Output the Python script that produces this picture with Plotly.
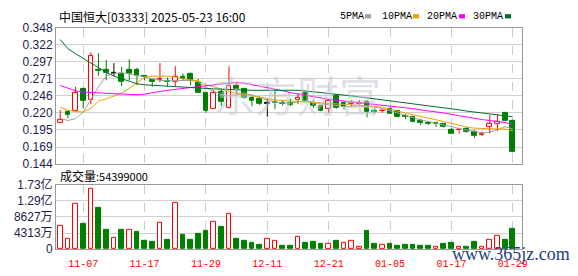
import plotly.graph_objects as go

# ---------------- data ----------------
dates = ["11-02", "11-03", "11-06", "11-07", "11-08", "11-09", "11-10", "11-13", "11-14", "11-15",
         "11-16", "11-17", "11-20", "11-21", "11-22", "11-23", "11-24", "11-27", "11-28", "11-29",
         "11-30", "12-01", "12-04", "12-05", "12-06", "12-07", "12-08", "12-11", "12-12", "12-13",
         "12-14", "12-15", "12-18", "12-19", "12-20", "12-21", "12-22", "12-27", "12-28", "12-29",
         "01-02", "01-03", "01-04", "01-05", "01-08", "01-09", "01-10", "01-11", "01-12", "01-15",
         "01-16", "01-17", "01-18", "01-19", "01-22", "01-23", "01-24", "01-25", "01-26", "01-29"]

opens = [0.2056, 0.2219, 0.2243, 0.2559, 0.2396, 0.2857, 0.2857, 0.2800, 0.2796, 0.2857,
         0.2857, 0.2762, 0.2701, 0.2705, 0.2691, 0.2668, 0.2753, 0.2796, 0.2658, 0.2502,
         0.2266, 0.2517, 0.2276, 0.2606, 0.2559, 0.2432, 0.2418, 0.2350, 0.2370, 0.2362,
         0.2351, 0.2399, 0.2502, 0.2361, 0.2314, 0.2266, 0.2456, 0.2351, 0.2342, 0.2346,
         0.2371, 0.2243, 0.2236, 0.2266, 0.2243, 0.2163, 0.2148, 0.2087, 0.2063, 0.2044,
         0.2035, 0.1945, 0.1945, 0.1960, 0.1926, 0.1875, 0.1997, 0.2039, 0.2209, 0.2087]
highs = [0.2247, 0.2247, 0.2597, 0.2575, 0.3112, 0.3102, 0.2998, 0.2952, 0.2895, 0.3008,
         0.2881, 0.2762, 0.2715, 0.2952, 0.2739, 0.2904, 0.2796, 0.2810, 0.2715, 0.2516,
         0.2549, 0.2559, 0.2904, 0.2668, 0.2569, 0.2456, 0.2456, 0.2418, 0.2530, 0.2399,
         0.2418, 0.2502, 0.2512, 0.2399, 0.2323, 0.2418, 0.2488, 0.2371, 0.2399, 0.2399,
         0.2399, 0.2290, 0.2266, 0.2290, 0.2253, 0.2187, 0.2158, 0.2120, 0.2083, 0.2068,
         0.2044, 0.1983, 0.1983, 0.1997, 0.1945, 0.1926, 0.2172, 0.2187, 0.2219, 0.2102]
lows = [0.2050, 0.2124, 0.2235, 0.2276, 0.2333, 0.2762, 0.2694, 0.2762, 0.2606, 0.2691,
        0.2620, 0.2691, 0.2597, 0.2668, 0.2597, 0.2606, 0.2691, 0.2620, 0.2502, 0.2209,
        0.2266, 0.2304, 0.2266, 0.2478, 0.2418, 0.2304, 0.2323, 0.2148, 0.2266, 0.2314,
        0.2304, 0.2337, 0.2371, 0.2280, 0.2229, 0.2209, 0.2266, 0.2257, 0.2290, 0.2304,
        0.2139, 0.2195, 0.2209, 0.2190, 0.2139, 0.2114, 0.2063, 0.2021, 0.2025, 0.1997,
        0.1983, 0.1897, 0.1897, 0.1911, 0.1832, 0.1860, 0.1898, 0.1936, 0.2077, 0.1614]
closes = [0.2099, 0.2180, 0.2502, 0.2385, 0.3055, 0.2843, 0.2804, 0.2800, 0.2668, 0.2796,
          0.2762, 0.2743, 0.2668, 0.2705, 0.2668, 0.2753, 0.2715, 0.2691, 0.2502, 0.2243,
          0.2502, 0.2375, 0.2606, 0.2559, 0.2432, 0.2385, 0.2347, 0.2350, 0.2350, 0.2338,
          0.2323, 0.2432, 0.2385, 0.2314, 0.2243, 0.2385, 0.2276, 0.2290, 0.2351, 0.2351,
          0.2229, 0.2219, 0.2238, 0.2195, 0.2148, 0.2148, 0.2077, 0.2063, 0.2044, 0.2049,
          0.1991, 0.1897, 0.1959, 0.1926, 0.1865, 0.1898, 0.2039, 0.2077, 0.2087, 0.1628]
# candle colour: r = up, g = down, k = flat
candle_dir = list("rgrgrggkgg" "gggrgrgggg" "rgrggggkgg" "grgggrggrr" "ggrggggggg" "ggrggrrrgg")

ma5 = [0.2124, 0.2092, 0.2120, 0.2219, 0.2403, 0.2602, 0.2757, 0.2800, 0.2807, 0.2793,
       0.2765, 0.2743, 0.2715, 0.2694, 0.2687, 0.2687, 0.2694, 0.2694, 0.2672, 0.2587,
       0.2531, 0.2478, 0.2464, 0.2488, 0.2502, 0.2474, 0.2432, 0.2396, 0.2371, 0.2354,
       0.2351, 0.2368, 0.2385, 0.2368, 0.2340, 0.2332, 0.2318, 0.2300, 0.2304, 0.2314,
       0.2305, 0.2297, 0.2269, 0.2240, 0.2205, 0.2172, 0.2134, 0.2099, 0.2077, 0.2053,
       0.2031, 0.2000, 0.1971, 0.1946, 0.1922, 0.1907, 0.1914, 0.1950, 0.2000, 0.1964]
ma10 = [0.2290, 0.2247, 0.2226, 0.2219, 0.2276, 0.2385, 0.2417, 0.2456, 0.2502, 0.2573,
        0.2658, 0.2739, 0.2757, 0.2762, 0.2757, 0.2743, 0.2715, 0.2701, 0.2687, 0.2630,
        0.2595, 0.2559, 0.2531, 0.2502, 0.2481, 0.2456, 0.2439, 0.2417, 0.2399, 0.2392,
        0.2385, 0.2378, 0.2371, 0.2365, 0.2361, 0.2354, 0.2347, 0.2340, 0.2332, 0.2325,
        0.2318, 0.2304, 0.2290, 0.2266, 0.2233, 0.2205, 0.2177, 0.2148, 0.2120, 0.2102,
        0.2077, 0.2049, 0.2021, 0.1992, 0.1978, 0.1968, 0.1968, 0.1968, 0.1964, 0.1936]
ma20 = [0.2616, 0.2573, 0.2538, 0.2517, 0.2510, 0.2502, 0.2502, 0.2495, 0.2488, 0.2478,
        0.2478, 0.2488, 0.2510, 0.2524, 0.2545, 0.2559, 0.2573, 0.2587, 0.2602, 0.2616,
        0.2630, 0.2644, 0.2658, 0.2665, 0.2651, 0.2630, 0.2609, 0.2587, 0.2566, 0.2538,
        0.2510, 0.2488, 0.2467, 0.2446, 0.2425, 0.2410, 0.2396, 0.2382, 0.2371, 0.2361,
        0.2347, 0.2332, 0.2318, 0.2304, 0.2294, 0.2283, 0.2269, 0.2255, 0.2240, 0.2219,
        0.2205, 0.2184, 0.2162, 0.2141, 0.2120, 0.2106, 0.2092, 0.2077, 0.2063, 0.2031]
ma30 = [0.3306, 0.3168, 0.3093, 0.3022, 0.2952, 0.2885, 0.2814, 0.2757, 0.2715, 0.2680,
        0.2644, 0.2626, 0.2620, 0.2612, 0.2602, 0.2597, 0.2592, 0.2587, 0.2580, 0.2573,
        0.2566, 0.2559, 0.2555, 0.2552, 0.2549, 0.2545, 0.2545, 0.2548, 0.2552, 0.2555,
        0.2552, 0.2545, 0.2535, 0.2524, 0.2512, 0.2502, 0.2488, 0.2474, 0.2460, 0.2446,
        0.2432, 0.2417, 0.2403, 0.2389, 0.2368, 0.2351, 0.2340, 0.2328, 0.2318, 0.2304,
        0.2286, 0.2269, 0.2252, 0.2233, 0.2219, 0.2205, 0.2191, 0.2177, 0.2163, 0.2148]

volumes = [63.4e6, 27.0e6, 121e6, 69e6, 162e6, 111.6e6, 53e6, 29.6e6, 53e6, 52.5e6,
           46.5e6, 22.8e6, 20.3e6, 71.8e6, 25.4e6, 123.5e6, 37.2e6, 25.4e6, 40.6e6, 48.2e6,
           73.6e6, 60.9e6, 95.6e6, 27.9e6, 22.8e6, 17.8e6, 12.7e6, 27.9e6, 22.8e6, 10.1e6,
           10.1e6, 32.2e6, 17.8e6, 20.3e6, 15.2e6, 14.4e6, 22.8e6, 17.8e6, 22.8e6, 6.8e6,
           48.2e6, 15.2e6, 11.8e6, 15.2e6, 10.1e6, 12.7e6, 12.7e6, 10.1e6, 10.1e6, 6.8e6,
           15.2e6, 17.8e6, 5.1e6, 5.1e6, 20.3e6, 6.8e6, 25.4e6, 35.5e6, 25.4e6, 54.399e6]
volume_dir = list("rrrgrggrgr" "gggrgrgggg" "rgrggggrrg" "grgggrgrrr" "ggrggggggr" "ggrggrrrgg")

price_ticks = [0.144, 0.1695, 0.195, 0.2205, 0.246, 0.2715, 0.297, 0.3225, 0.348]
price_labels = ["0.144", "0.169", "0.195", "0.220", "0.246", "0.271", "0.297", "0.322", "0.348"]
vol_ticks = [0, 43.13e6, 86.26e6, 129.39e6, 172.52e6]
vol_labels = ["0", "4313万", "8627万", "1.29亿", "1.73亿"]
date_ticks = ["11-07", "11-17", "11-29", "12-11", "12-21", "01-05", "01-17", "01-29"]

title_text = "中国恒大[03333] 2025-05-23 16:00"
volume_label = "成交量"
volume_value = ":54399000"
ma_names = ["5PMA", "10PMA", "20PMA", "30PMA"]

# ---------------- styling ----------------
RED = "#ff0000"
GREEN = "#008000"
BLACK = "#000000"
COLORS = {"r": RED, "g": GREEN, "k": BLACK}
MA_COLORS = ["#a0a0a0", "#f0a000", "#ff00ff", "#006b32"]
BODY_W = 0.62
W, H = 578, 276
PL, PR = 56, 522  # plot left / right in pixels


def px_x(x):
    return (x - PL) / (PR - PL)


def px_y(y):
    return 1 - y / H


fig = go.Figure()

# candle bodies
for key in ["r", "g", "k"]:
    xs, ys, bs = [], [], []
    for d, o, c, k in zip(dates, opens, closes, candle_dir):
        if k != key:
            continue
        lo, hi = min(o, c), max(o, c)
        if hi - lo < 0.0012:
            xs.append(d); ys.append(0.0012); bs.append((o + c) / 2 - 0.0006)
        else:
            xs.append(d); ys.append(hi - lo); bs.append(lo)
    fill = "#ffffff" if key == "r" else COLORS[key]
    fig.add_trace(go.Bar(x=xs, y=ys, base=bs, width=BODY_W, xaxis="x", yaxis="y",
                         marker=dict(color=fill, line=dict(color=COLORS[key], width=1)),
                         showlegend=False, hoverinfo="skip"))

# wicks
for key in ["r", "g", "k"]:
    xs, ys = [], []
    for d, o, h, l, c, k in zip(dates, opens, highs, lows, closes, candle_dir):
        if k != key:
            continue
        lo, hi = min(o, c), max(o, c)
        if h > hi:
            xs += [d, d, None]; ys += [hi, h, None]
        if l < lo:
            xs += [d, d, None]; ys += [lo, l, None]
    fig.add_trace(go.Scatter(x=xs, y=ys, mode="lines", line=dict(color=COLORS[key], width=1),
                             xaxis="x", yaxis="y", showlegend=False, hoverinfo="skip"))

# moving averages
for name, vals, col in zip(ma_names, [ma5, ma10, ma20, ma30], MA_COLORS):
    fig.add_trace(go.Scatter(x=dates, y=vals, mode="lines", name=name,
                             line=dict(color=col, width=1),
                             xaxis="x", yaxis="y", showlegend=False, hoverinfo="skip"))

# volume
for key in ["r", "g"]:
    xs = [d for d, k in zip(dates, volume_dir) if k == key]
    ys = [v for v, k in zip(volumes, volume_dir) if k == key]
    fill = "#ffffff" if key == "r" else GREEN
    fig.add_trace(go.Bar(x=xs, y=ys, width=BODY_W, xaxis="x2", yaxis="y2",
                         marker=dict(color=fill, line=dict(color=COLORS[key], width=1)),
                         showlegend=False, hoverinfo="skip"))

axis_common = dict(showline=True, mirror=True, linecolor="#999999", linewidth=1,
                   zeroline=False, ticks="")
tick_font = dict(family="Liberation Sans, Noto Sans CJK SC, sans-serif", size=12, color="#1c1c4a")

fig.update_layout(
    width=W, height=H,
    margin=dict(l=PL, r=W - PR, t=0, b=0),
    paper_bgcolor="white", plot_bgcolor="white",
    barmode="overlay", bargap=0,
    showlegend=False,
    xaxis=dict(type="category", categoryorder="array", categoryarray=dates,
               range=[-0.55, 60.2], domain=[0, 1], anchor="y",
               tickvals=date_ticks, showticklabels=False,
               showgrid=True, gridcolor="#cccccc", griddash="dash", gridwidth=1,
               **axis_common),
    xaxis2=dict(type="category", categoryorder="array", categoryarray=dates,
                range=[-0.55, 60.2], domain=[0, 1], anchor="y2", matches="x",
                tickvals=date_ticks, ticktext=date_ticks, showticklabels=True,
                tickfont=dict(family="Liberation Mono, monospace", size=10, color=RED),
                tickangle=0, ticklabelstandoff=5,
                showgrid=True, gridcolor="#cccccc", griddash="dash", gridwidth=1,
                **axis_common),
    yaxis=dict(domain=[px_y(165), px_y(21)], range=[0.144, 0.348], anchor="x",
               tickvals=price_ticks, ticktext=price_labels, tickfont=tick_font,
               showgrid=True, gridcolor="#d0d0d0", gridwidth=1, **axis_common),
    yaxis2=dict(domain=[px_y(255), px_y(187)], range=[0, 172.52e6], anchor="x2",
                tickvals=vol_ticks, ticktext=vol_labels, tickfont=tick_font,
                showgrid=True, gridcolor="#d0d0d0", gridwidth=1, **axis_common),
)

annotations = [
    dict(text=title_text, xref="paper", yref="paper", x=px_x(57), y=px_y(8.5),
         xanchor="left", yanchor="middle", showarrow=False,
         font=dict(family="Noto Sans CJK SC, sans-serif", size=12, color="#000000")),
    dict(text=volume_label + "<span style='font-size:11px'>" + volume_value + "</span>",
         xref="paper", yref="paper", x=px_x(58), y=px_y(177),
         xanchor="left", yanchor="middle", showarrow=False,
         font=dict(family="Noto Sans CJK SC, sans-serif", size=12, color="#000000")),
    dict(text="东方财富", xref="paper", yref="paper", x=px_x(297), y=px_y(90),
         xanchor="center", yanchor="middle", showarrow=False,
         font=dict(family="Noto Sans CJK SC, sans-serif", size=42, color="rgba(195,200,212,0.55)")),
    dict(text="www.365jz.com", xref="paper", yref="paper", x=px_x(572), y=px_y(260),
         xanchor="right", yanchor="middle", showarrow=False,
         font=dict(family="Liberation Serif, serif", size=18, color="#1f3f7a")),
]

# legend: label then small coloured square
legend_text_x = [338, 380, 425, 471]
legend_box_x = [365, 413, 459, 505]
shapes = []
for name, col, tx, bx in zip(ma_names, MA_COLORS, legend_text_x, legend_box_x):
    annotations.append(dict(text=name, xref="paper", yref="paper", x=px_x(tx), y=px_y(8.5),
                            xanchor="left", yanchor="middle", showarrow=False,
                            font=dict(family="Liberation Mono, monospace", size=10, color="#000000")))
    shapes.append(dict(type="rect", xref="paper", yref="paper",
                       x0=px_x(bx), x1=px_x(bx + 6), y0=px_y(11), y1=px_y(6.5),
                       fillcolor=col, line=dict(width=0)))

fig.update_layout(annotations=annotations, shapes=shapes)

fig.write_html("out.html")
